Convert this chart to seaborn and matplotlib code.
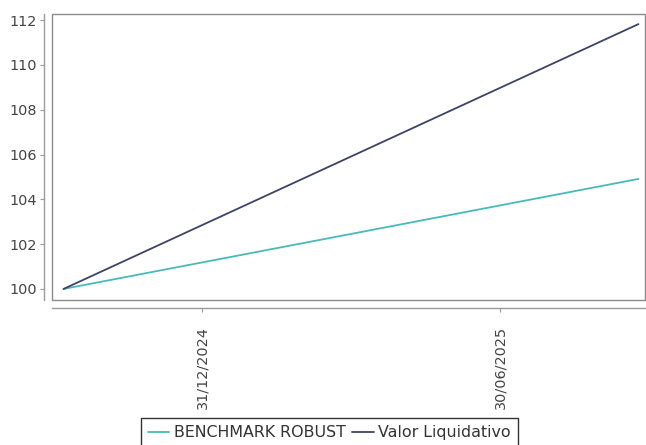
import pandas as pd
import matplotlib
matplotlib.use("Agg")
import matplotlib.pyplot as plt
import matplotlib.dates as mdates
from matplotlib.patches import Rectangle
import seaborn as sns

# data (start and end of the period)
dates = ["2024-10-08", "2025-09-22"]
benchmark = [100.0, 104.91]
valor = [100.0, 111.82]
tick_dates = ["2024-12-31", "2025-06-30"]
y_ticks = [100, 102, 104, 106, 108, 110, 112]

df = pd.DataFrame({
    "fecha": pd.to_datetime(dates * 2),
    "valor": benchmark + valor,
    "serie": ["BENCHMARK ROBUST"] * 2 + ["Valor Liquidativo"] * 2,
})

sns.set_style("white")
plt.rcParams["font.family"] = ["DejaVu Sans"]

fig = plt.figure(figsize=(6.46, 4.45), dpi=100)
ax = fig.add_axes([0.0805, 0.326, 0.918, 0.6425])

sns.lineplot(data=df, x="fecha", y="valor", hue="serie",
             palette=["#48baba", "#3b4468"], linewidth=1.3, ax=ax)

ax.set_xlim(pd.Timestamp("2024-10-01"), pd.Timestamp("2025-09-26"))
ax.set_ylim(99.51, 112.27)
ax.set_yticks(y_ticks)
ax.set_xticks(pd.to_datetime(tick_dates))
ax.xaxis.set_major_formatter(mdates.DateFormatter("%d/%m/%Y"))
ax.set_xlabel("")
ax.set_ylabel("")

# grey frame around the plot area, axis lines set apart from it
ax.add_patch(Rectangle((0, 0), 1, 1, transform=ax.transAxes, fill=False,
                       edgecolor="#8a8a8a", linewidth=1.0, clip_on=False))
for s in ["top", "right"]:
    ax.spines[s].set_visible(False)
for s in ["left", "bottom"]:
    ax.spines[s].set_position(("outward", 6))
    ax.spines[s].set_color("#9a9a9a")
    ax.spines[s].set_linewidth(1.0)

ax.tick_params(axis="both", direction="out", length=3, width=0.8,
               color="#9a9a9a", labelsize=10.4, labelcolor="#444444")
ax.tick_params(axis="y", left=True, pad=2)
ax.tick_params(axis="x", bottom=True, pad=10)
plt.setp(ax.get_xticklabels(), rotation=90)

leg = ax.legend(loc="upper center", bbox_to_anchor=(0.510, 0.0607),
                bbox_transform=fig.transFigure, ncol=2,
                frameon=True, fancybox=False, fontsize=11.4, handlelength=1.35,
                handletextpad=0.3, columnspacing=0.4, borderpad=0.45,
                borderaxespad=0)
leg.get_frame().set_edgecolor("black")
leg.get_frame().set_linewidth(1.0)
for t in leg.get_texts():
    t.set_color("#333333")

fig.savefig("out.png", dpi=100)
